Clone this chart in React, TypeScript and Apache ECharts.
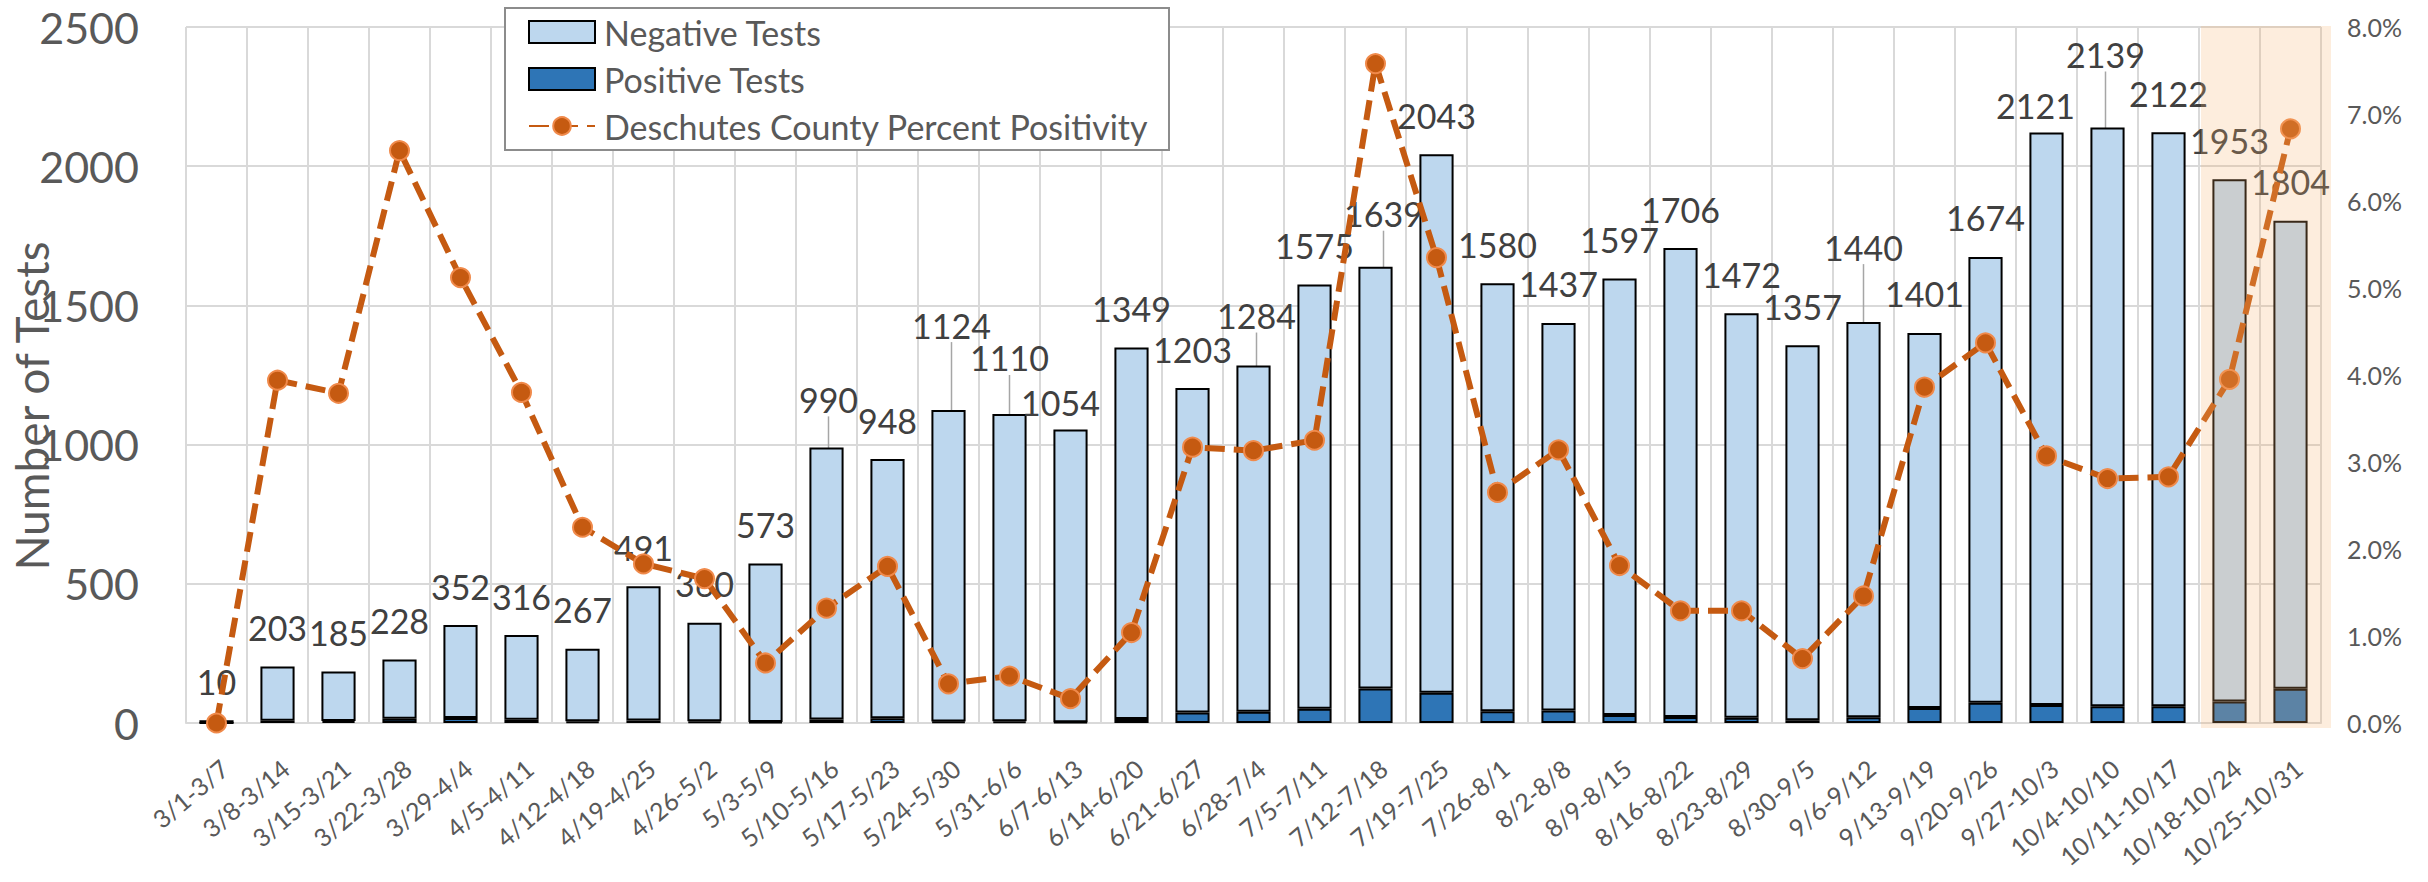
import React, { useEffect, useRef } from "react";
import * as echarts from "echarts";

// ---------------- data ----------------
const categories = [
  "3/1-3/7", "3/8-3/14", "3/15-3/21", "3/22-3/28", "3/29-4/4", "4/5-4/11", "4/12-4/18",
  "4/19-4/25", "4/26-5/2", "5/3-5/9", "5/10-5/16", "5/17-5/23", "5/24-5/30", "5/31-6/6",
  "6/7-6/13", "6/14-6/20", "6/21-6/27", "6/28-7/4", "7/5-7/11", "7/12-7/18", "7/19-7/25",
  "7/26-8/1", "8/2-8/8", "8/9-8/15", "8/16-8/22", "8/23-8/29", "8/30-9/5", "9/6-9/12",
  "9/13-9/19", "9/20-9/26", "9/27-10/3", "10/4-10/10", "10/11-10/17", "10/18-10/24", "10/25-10/31",
];

const totalTests = [
  10, 203, 185, 228, 352, 316, 267, 491, 360, 573, 990, 948, 1124, 1110, 1054, 1349, 1203, 1284,
  1575, 1639, 2043, 1580, 1437, 1597, 1706, 1472, 1357, 1440, 1401, 1674, 2121, 2139, 2122, 1953, 1804,
];

const positiveTests = [
  0, 8, 7, 15, 18, 12, 6, 9, 6, 4, 13, 17, 5, 6, 3, 14, 38, 40, 51, 124, 109, 42, 45, 29, 22, 19,
  10, 21, 54, 73, 65, 60, 60, 77, 123,
];

// percent (0-8 scale on the right axis)
const percentPositivity = [
  0.0, 3.94, 3.79, 6.58, 5.12, 3.8, 2.25, 1.83, 1.66, 0.69, 1.32, 1.8, 0.45, 0.54, 0.28, 1.04, 3.17,
  3.13, 3.25, 7.58, 5.35, 2.65, 3.14, 1.81, 1.29, 1.29, 0.74, 1.46, 3.86, 4.37, 3.07, 2.81, 2.83,
  3.95, 6.83,
];

const leftAxisTicks = { min: 0, max: 2500, interval: 500 };
const rightAxisTicks = { min: 0, max: 8, interval: 1 };
const highlightedWeeks = ["10/18-10/24", "10/25-10/31"];

const seriesNames = {
  negative: "Negative Tests",
  positive: "Positive Tests",
  positivity: "Deschutes County Percent Positivity",
};

// ---------------- label layout (styling, not data) ----------------
const labelShift: Record<number, [number, number]> = {
  10: [2, -9],
  12: [3, -46],
  13: [0, -17],
  14: [-10, 12],
  17: [3, -11],
  19: [8, -14],
  27: [0, -36],
  30: [-11, 12],
  31: [-2, -34],
};
const leaderLineIdx = [10, 12, 13, 17, 19, 27, 31];

const FONT = 'Lato, "Liberation Sans", sans-serif';
const AXIS_TEXT = "#595959";
const GRID = "#D9D9D9";

export default function App() {
  const ref = useRef<HTMLDivElement>(null);

  useEffect(() => {
    document.body.style.margin = "0";
    document.body.style.overflow = "hidden";
    const chart = echarts.init(ref.current!, null, { renderer: "svg" });

    const negativeTests = totalTests.map((t, i) => t - positiveTests[i]);

    const option: any = {
      animation: false,
      textStyle: { fontFamily: FONT },
      grid: { left: 186, right: 107, top: 27, bottom: 159, containLabel: false, outerBoundsMode: "none" },
      legend: {
        orient: "vertical",
        left: 528,
        top: 14,
        padding: 0,
        itemWidth: 66,
        itemHeight: 22,
        itemGap: 11,
        z: 4,
        selectedMode: false,
        textStyle: { fontSize: 34, color: AXIS_TEXT, lineHeight: 36, fontFamily: FONT, padding: [0, 0, 0, 4] },
        data: [
          { name: seriesNames.negative, icon: "rect", itemStyle: { borderColor: "#000", borderWidth: 2 } },
          { name: seriesNames.positive, icon: "rect", itemStyle: { borderColor: "#000", borderWidth: 2 } },
          { name: seriesNames.positivity },
        ],
      },
      xAxis: {
        type: "category",
        data: categories,
        axisLine: { lineStyle: { color: GRID, width: 2 } },
        axisTick: { show: false },
        splitLine: { show: true, interval: 0, lineStyle: { color: GRID, width: 2 } },
        axisLabel: {
          interval: 0,
          rotate: 40,
          fontSize: 25,
          color: AXIS_TEXT,
          margin: 32,
          verticalAlign: "top",
          fontFamily: FONT,
        },
      },
      yAxis: [
        {
          type: "value",
          ...leftAxisTicks,
          axisLine: { show: false },
          axisTick: { show: false },
          splitLine: { lineStyle: { color: GRID, width: 2 } },
          axisLabel: {
            fontSize: 43,
            color: AXIS_TEXT,
            margin: 47,
            fontFamily: FONT,
            formatter: (v: number) => String(v),
          },
        },
        {
          type: "value",
          position: "right",
          ...rightAxisTicks,
          axisLine: { show: false },
          axisTick: { show: false },
          splitLine: { show: false },
          axisLabel: {
            fontSize: 25,
            color: AXIS_TEXT,
            margin: 26,
            fontFamily: FONT,
            formatter: (v: number) => v.toFixed(1) + "%",
          },
        },
      ],
      graphic: [
        {
          type: "rect",
          z: 3,
          shape: { x: 505, y: 8, width: 664, height: 142 },
          style: { fill: "#FFFFFF", stroke: "#8C8C8C", lineWidth: 2 },
        },
        {
          type: "text",
          x: 31,
          y: 406,
          rotation: Math.PI / 2,
          style: {
            text: "Number of Tests",
            fontSize: 46,
            fontFamily: FONT,
            fill: AXIS_TEXT,
            align: "center",
            verticalAlign: "middle",
          },
        },
      ],
      series: [
        {
          name: seriesNames.positive,
          type: "bar",
          stack: "tests",
          barWidth: "56%",
          data: positiveTests,
          itemStyle: { color: "#2E75B6", borderColor: "#000", borderWidth: 2 },
        },
        {
          name: seriesNames.negative,
          type: "bar",
          stack: "tests",
          barWidth: "56%",
          data: negativeTests.map((v, i) =>
            leaderLineIdx.indexOf(i) >= 0 ? { value: v, labelLine: { show: true } } : v
          ),
          itemStyle: { color: "#BDD7EE", borderColor: "#000", borderWidth: 2 },
          label: {
            show: true,
            position: "top",
            distance: 22,
            fontSize: 34,
            fontFamily: FONT,
            color: "#404040",
            formatter: (p: any) => String(totalTests[p.dataIndex]),
          },
          labelLine: { show: false, lineStyle: { color: "#A6A6A6", width: 1.5 } },
          labelLayout: (p: any) => {
            const s = labelShift[p.dataIndex];
            return s ? { dx: s[0], dy: s[1] } : {};
          },
        },
        {
          name: seriesNames.positivity,
          type: "line",
          yAxisIndex: 1,
          z: 5,
          data: percentPositivity,
          symbol: "circle",
          symbolSize: 19,
          lineStyle: { color: "#C55A11", width: 6, type: [20, 9] },
          itemStyle: { color: "#C55A11", borderColor: "#F08A4B", borderWidth: 2 },
        },
      ],
    };

    chart.setOption(option);

    const xa = chart.convertToPixel({ xAxisIndex: 0 }, highlightedWeeks[0]) as number;
    const xb = chart.convertToPixel({ xAxisIndex: 0 }, highlightedWeeks[1]) as number;
    const band = xb - xa;
    const yTop = chart.convertToPixel({ yAxisIndex: 0 }, leftAxisTicks.max) as number;
    const yZero = chart.convertToPixel({ yAxisIndex: 0 }, leftAxisTicks.min) as number;
    const left = xa - band / 2 + 2;
    const right = xb + band / 2 + 10;

    chart.setOption({
      graphic: [
        option.graphic[0],
        option.graphic[1],
        {
          type: "rect",
          z: 10,
          silent: true,
          shape: { x: left, y: yTop - 1, width: right - left, height: yZero + 5 - (yTop - 1) },
          style: { fill: "rgba(247,179,106,0.23)" },
        },
      ],
    });

    return () => chart.dispose();
  }, []);

  return <div ref={ref} style={{ width: 2428, height: 882 }} />;
}
